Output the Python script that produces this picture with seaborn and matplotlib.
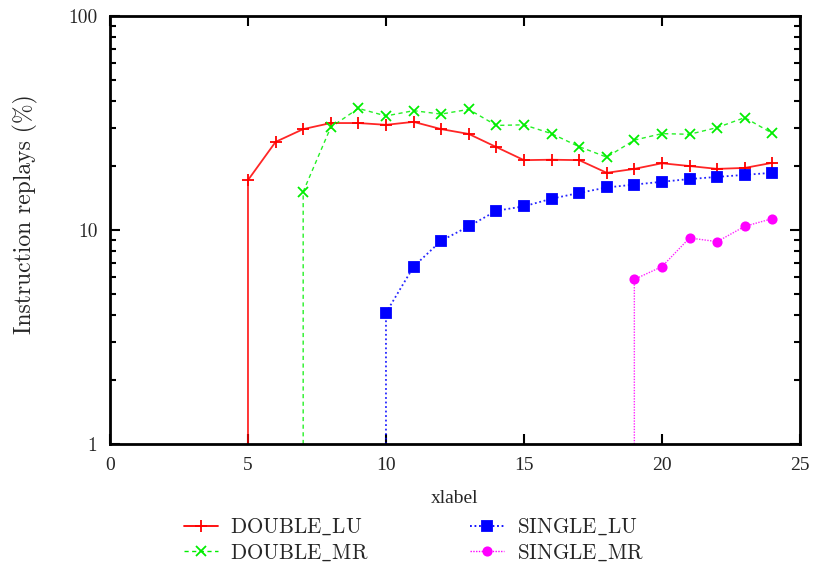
import numpy as np
import pandas as pd
import matplotlib
matplotlib.use("Agg")
import matplotlib.pyplot as plt
from matplotlib.lines import Line2D
from matplotlib.ticker import LogLocator, NullFormatter, FixedLocator, FixedFormatter
import seaborn as sns

# ---- data ----
double_lu_x = list(range(5, 25))
double_lu_y = [17.1, 25.8, 29.6, 31.6, 31.6, 31.0, 32.0, 29.6, 28.1, 24.4,
               21.2, 21.3, 21.2, 18.5, 19.3, 20.5, 19.9, 19.3, 19.5, 20.6]
double_mr_x = list(range(7, 25))
double_mr_y = [15.1, 30.2, 37.0, 34.1, 36.1, 34.8, 36.6, 30.8, 31.0, 28.2,
               24.5, 21.9, 26.3, 28.2, 28.0, 30.1, 33.5, 28.3]
single_lu_x = list(range(10, 25))
single_lu_y = [4.1, 6.74, 8.91, 10.4, 12.3, 12.9, 14.0, 14.9, 15.8, 16.3,
               16.8, 17.3, 17.7, 18.1, 18.5]
single_mr_x = list(range(19, 25))
single_mr_y = [5.88, 6.74, 9.18, 8.82, 10.4, 11.3]
labels = ["DOUBLE_LU", "DOUBLE_MR", "SINGLE_LU", "SINGLE_MR"]
x_ticks = [0, 5, 10, 15, 20, 25]
y_ticks = [1, 10, 100]
floor_value = 1

sns.set_style("white")
plt.rcParams["font.family"] = ["cmr10", "DejaVu Serif"]
plt.rcParams["axes.formatter.use_mathtext"] = True
plt.rcParams["mathtext.fontset"] = "cm"

fig = plt.figure(figsize=(8.16, 5.70), dpi=100)
ax = fig.add_axes([0.1348, 0.221, 0.8455, 0.751])

series = [
    (double_lu_x, double_lu_y, "#ff0000", "-", "+", 9, 1.3),
    (double_mr_x, double_mr_y, "#00ee00", (0, (3, 2.5)), "x", 7, 1.0),
    (single_lu_x, single_lu_y, "#0000ff", (0, (1, 1.5)), "s", 6.5, 1.3),
    (single_mr_x, single_mr_y, "#ff00ff", (0, (1, 1)), "o", 6, 1.0),
]

handles = []
for (xs, ys, col, ls, mk, ms, lw), lab in zip(series, labels):
    lx = [xs[0]] + list(xs)
    ly = [floor_value] + list(ys)
    df = pd.DataFrame({"x": lx, "y": ly})
    sns.lineplot(data=df, x="x", y="y", ax=ax, color=col, linestyle=ls,
                 linewidth=lw, estimator=None, sort=False, legend=False,
                 alpha=0.85)
    dm = pd.DataFrame({"x": xs, "y": ys})
    ax.plot(dm["x"], dm["y"], linestyle="none", marker=mk, markersize=ms,
            color=col, markeredgewidth=1.3, zorder=3)
    handles.append(Line2D([], [], color=col, linestyle=ls, linewidth=lw,
                          marker=mk, markersize=ms, markeredgewidth=1.3))

ax.set_yscale("log")
ax.set_xlim(0, 25)
ax.set_ylim(1, 100)
ax.xaxis.set_major_locator(FixedLocator(x_ticks))
ax.set_xticklabels([str(t) for t in x_ticks], family="Liberation Serif", fontsize=14)
ax.yaxis.set_major_locator(FixedLocator(y_ticks))
ax.yaxis.set_major_formatter(FixedFormatter([str(t) for t in y_ticks]))
ax.yaxis.set_minor_locator(LogLocator(base=10, subs=np.arange(2, 10)))
ax.yaxis.set_minor_formatter(NullFormatter())
for lab in ax.get_yticklabels():
    lab.set_fontsize(14)

ax.tick_params(which="both", direction="in", top=True, right=True,
               bottom=True, left=True, width=1.5, color="black")
ax.tick_params(which="major", length=7, pad=9)
ax.tick_params(which="minor", length=4)
for sp in ax.spines.values():
    sp.set_linewidth(2.0)
    sp.set_color("black")

ax.set_xlabel("xlabel", family="Liberation Serif", fontsize=14, labelpad=12)
ax.set_ylabel("Instruction replays (%)", fontsize=17)
ax.yaxis.set_label_coords(-0.104, 0.537)

disp_labels = [r"$\mathrm{" + s.replace("_", r"\_") + "}$" for s in labels]
fig.legend(handles, disp_labels, loc="lower left", bbox_to_anchor=(0.202, -0.021),
           ncol=2, frameon=False, fontsize=15.2, handlelength=1.6,
           columnspacing=4.8, labelspacing=0.25, handletextpad=0.6)

fig.savefig("out.png", dpi=100)
